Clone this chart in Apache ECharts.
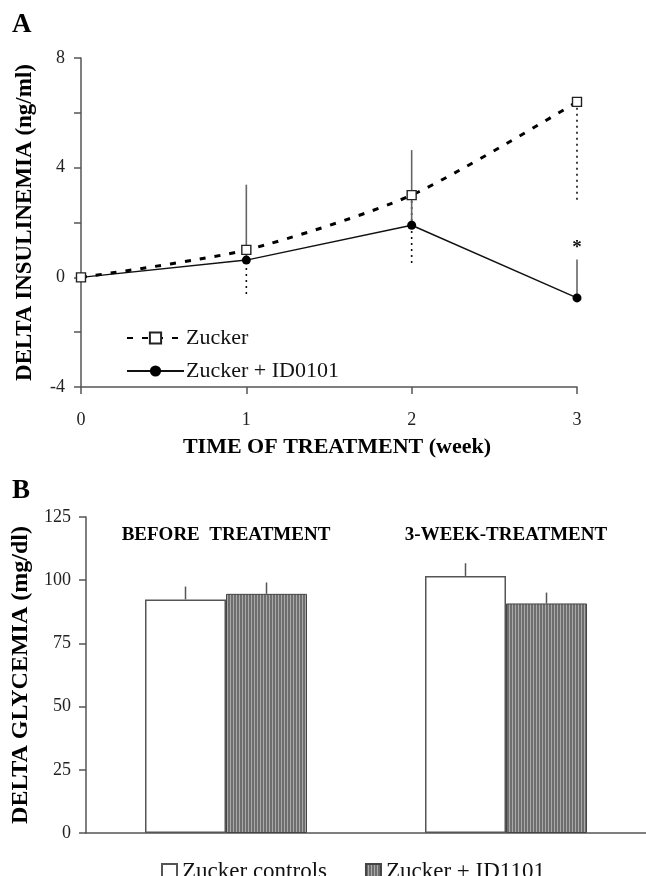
<!DOCTYPE html>
<html>
<head>
<meta charset="utf-8">
<script src="https://cdn.jsdelivr.net/npm/echarts@6/dist/echarts.min.js"></script>
<style>html,body{margin:0;padding:0;background:#fff}#c{width:646px;height:876px}</style>
</head>
<body>
<div id="c"></div>
<script>
// ---- Panel A data ----
var weeks = [0, 1, 2, 3];
var zucker = [0, 1.0, 3.0, 6.4];
var zuckerErr = [0, 1.63, 2.54, 3.69];      // drawn downward
var id0101 = [0, 0.63, 1.9, -0.75];
var id0101Err = [0, 2.75, 2.74, 1.40];      // drawn upward
var id0101Sig = ['', '', '', '*'];
var yTicksA = [-4, 0, 4, 8];

// ---- Panel B data ----
var phases = ['BEFORE  TREATMENT', '3-WEEK-TREATMENT'];
var controls = [92.4, 101.7];
var controlsErr = [5.1, 5.0];
var id1101 = [94.6, 90.8];
var id1101Err = [4.5, 4.3];

var FONT = 'Liberation Serif';
var AX = '#555';

// stripe pattern
var pc = document.createElement('canvas');
pc.width = 3; pc.height = 8;
var pctx = pc.getContext('2d');
pctx.fillStyle = '#6e6e6e'; pctx.fillRect(0, 0, 3, 8);
pctx.fillStyle = '#aaaaaa'; pctx.fillRect(2, 0, 1, 8);
var stripe = { image: pc, repeat: 'repeat' };

var chart = echarts.init(document.getElementById('c'), null, { renderer: 'canvas' });

function errA(vals, errs, dir, sig) {
  return weeks.map(function (w, i) {
    return [w, vals[i], vals[i] + dir * errs[i], sig ? sig[i] : ''];
  }).filter(function (d, i) { return errs[i] > 0; });
}

function errRenderA(style) {
  return function (params, api) {
    var p0 = api.coord([api.value(0), api.value(1)]);
    var p1 = api.coord([api.value(0), api.value(2)]);
    var children = [{
      type: 'line',
      shape: { x1: p0[0], y1: p0[1], x2: p1[0], y2: p1[1] },
      style: style
    }];
    var s = api.value(3);
    if (s) {
      children.push({
        type: 'text',
        style: { text: s, x: p1[0], y: p1[1] - 2, align: 'center', verticalAlign: 'bottom',
                 font: 'bold 19px "' + FONT + '"', fill: '#111' }
      });
    }
    return { type: 'group', children: children };
  };
}

var BARW = 81;
function errB(vals, errs) {
  return vals.map(function (v, i) { return [i, v, v + errs[i]]; });
}
function errRenderB(offset) {
  return function (params, api) {
    var p0 = api.coord([api.value(0), api.value(1)]);
    var p1 = api.coord([api.value(0), api.value(2)]);
    return {
      type: 'line',
      shape: { x1: p0[0] + offset, y1: p0[1], x2: p1[0] + offset, y2: p1[1] },
      style: { stroke: AX, lineWidth: 1.5 }
    };
  };
}

var option = {
  backgroundColor: '#fff',
  animation: false,
  textStyle: { fontFamily: FONT },
  graphic: [
    { type: 'text', left: 12, top: 12, style: { text: 'A', font: 'bold 27px "' + FONT + '"', fill: '#000' } },
    { type: 'text', left: 12, top: 478, style: { text: 'B', font: 'bold 27px "' + FONT + '"', fill: '#000' } }
  ],
  legend: [
    {
      data: ['Zucker', 'Zucker + ID0101'],
      orient: 'vertical', left: 121, top: 322, itemWidth: 57, itemHeight: 14, itemGap: 11,
      textStyle: { fontFamily: FONT, fontSize: 22, color: '#111', padding: [0, 0, 0, -3] }
    },
    {
      data: ['Zucker controls', 'Zucker + ID1101'],
      orient: 'horizontal', left: 156, top: 855, itemWidth: 15, itemHeight: 15, itemGap: 38,
      icon: 'rect',
      textStyle: { fontFamily: FONT, fontSize: 23, color: '#111', padding: [0, 0, 0, 0] }
    }
  ],
  grid: [
    { left: 81, top: 58, width: 496, height: 329 },
    { left: 86, top: 517, width: 565, height: 316 }
  ],
  xAxis: [
    {
      gridIndex: 0, type: 'value', min: 0, max: 3, interval: 1,
      name: 'TIME OF TREATMENT (week)', nameLocation: 'middle', nameGap: 49,
      nameTextStyle: { fontFamily: FONT, fontWeight: 'bold', fontSize: 22, color: '#000', padding: [0, 0, 0, 16] },
      axisLine: { onZero: false, lineStyle: { color: AX, width: 1.5 } },
      axisTick: { show: true, length: 7, lineStyle: { color: AX, width: 1.5 } },
      axisLabel: { fontFamily: FONT, fontSize: 18, color: '#222', margin: 24 },
      splitLine: { show: false }
    },
    {
      gridIndex: 1, type: 'category', data: phases,
      axisLine: { lineStyle: { color: AX, width: 1.5 } },
      axisTick: { show: false },
      axisLabel: { show: false },
      splitLine: { show: false }
    },
    {
      gridIndex: 1, type: 'category', data: phases, position: 'top',
      axisLine: { show: false }, axisTick: { show: false },
      axisLabel: { interval: 0, hideOverlap: false, fontFamily: FONT, fontWeight: 'bold', fontSize: 19, color: '#000', margin: -28 },
      splitLine: { show: false }
    }
  ],
  yAxis: [
    {
      gridIndex: 0, type: 'value', min: -4, max: 8, interval: 2,
      name: 'DELTA INSULINEMIA (ng/ml)', nameLocation: 'middle', nameGap: 44,
      nameTextStyle: { fontFamily: FONT, fontWeight: 'bold', fontSize: 23, color: '#000' },
      axisLine: { show: true, onZero: false, lineStyle: { color: AX, width: 1.5 } },
      axisTick: { show: true, length: 7, lineStyle: { color: AX, width: 1.5 } },
      axisLabel: {
        fontFamily: FONT, fontSize: 18, color: '#222', margin: 16,
        formatter: function (v) { return yTicksA.indexOf(v) >= 0 ? String(v) : ''; }
      },
      splitLine: { show: false }
    },
    {
      gridIndex: 1, type: 'value', min: 0, max: 125, interval: 25,
      name: 'DELTA GLYCEMIA (mg/dl)', nameLocation: 'middle', nameGap: 52,
      nameTextStyle: { fontFamily: FONT, fontWeight: 'bold', fontSize: 24, color: '#000' },
      axisLine: { show: true, lineStyle: { color: AX, width: 1.5 } },
      axisTick: { show: true, length: 7, lineStyle: { color: AX, width: 1.5 } },
      axisLabel: { fontFamily: FONT, fontSize: 18, color: '#222', margin: 15 },
      splitLine: { show: false }
    }
  ],
  series: [
    {
      name: 'Zucker-err', type: 'custom', xAxisIndex: 0, yAxisIndex: 0, z: 1,
      renderItem: errRenderA({ stroke: '#111', lineWidth: 1.6, lineDash: [2, 4] }),
      data: errA(zucker, zuckerErr, -1), silent: true
    },
    {
      name: 'ID0101-err', type: 'custom', xAxisIndex: 0, yAxisIndex: 0, z: 1,
      renderItem: errRenderA({ stroke: '#666', lineWidth: 1.6 }),
      data: errA(id0101, id0101Err, 1, id0101Sig), silent: true
    },
    {
      name: 'Zucker + ID0101', type: 'line', xAxisIndex: 0, yAxisIndex: 0, z: 3,
      data: weeks.map(function (w, i) { return [w, id0101[i]]; }),
      symbol: 'circle', symbolSize: 9,
      itemStyle: { color: '#000' },
      lineStyle: { color: '#111', width: 1.4 }
    },
    {
      name: 'Zucker', type: 'line', xAxisIndex: 0, yAxisIndex: 0, z: 4, smooth: 0.25,
      data: weeks.map(function (w, i) { return [w, zucker[i]]; }),
      symbol: 'rect', symbolSize: 9, showAllSymbol: true,
      itemStyle: { color: '#fff', borderColor: '#222', borderWidth: 1.4 },
      lineStyle: { color: '#000', width: 3, type: [6, 9] }
    },
    {
      name: 'Zucker controls', type: 'bar', xAxisIndex: 1, yAxisIndex: 1,
      data: controls, barWidth: BARW, barGap: '0%',
      itemStyle: { color: '#fff', borderColor: AX, borderWidth: 1.5 }
    },
    {
      name: 'Zucker + ID1101', type: 'bar', xAxisIndex: 1, yAxisIndex: 1,
      data: id1101, barWidth: BARW, barGap: '0%',
      itemStyle: { color: stripe, borderColor: '#444', borderWidth: 1 }
    },
    {
      name: 'controls-err', type: 'custom', xAxisIndex: 1, yAxisIndex: 1, silent: true,
      renderItem: errRenderB(-BARW / 2), data: errB(controls, controlsErr)
    },
    {
      name: 'id1101-err', type: 'custom', xAxisIndex: 1, yAxisIndex: 1, silent: true,
      renderItem: errRenderB(BARW / 2), data: errB(id1101, id1101Err)
    }
  ]
};
chart.setOption(option);
</script>
</body>
</html>
